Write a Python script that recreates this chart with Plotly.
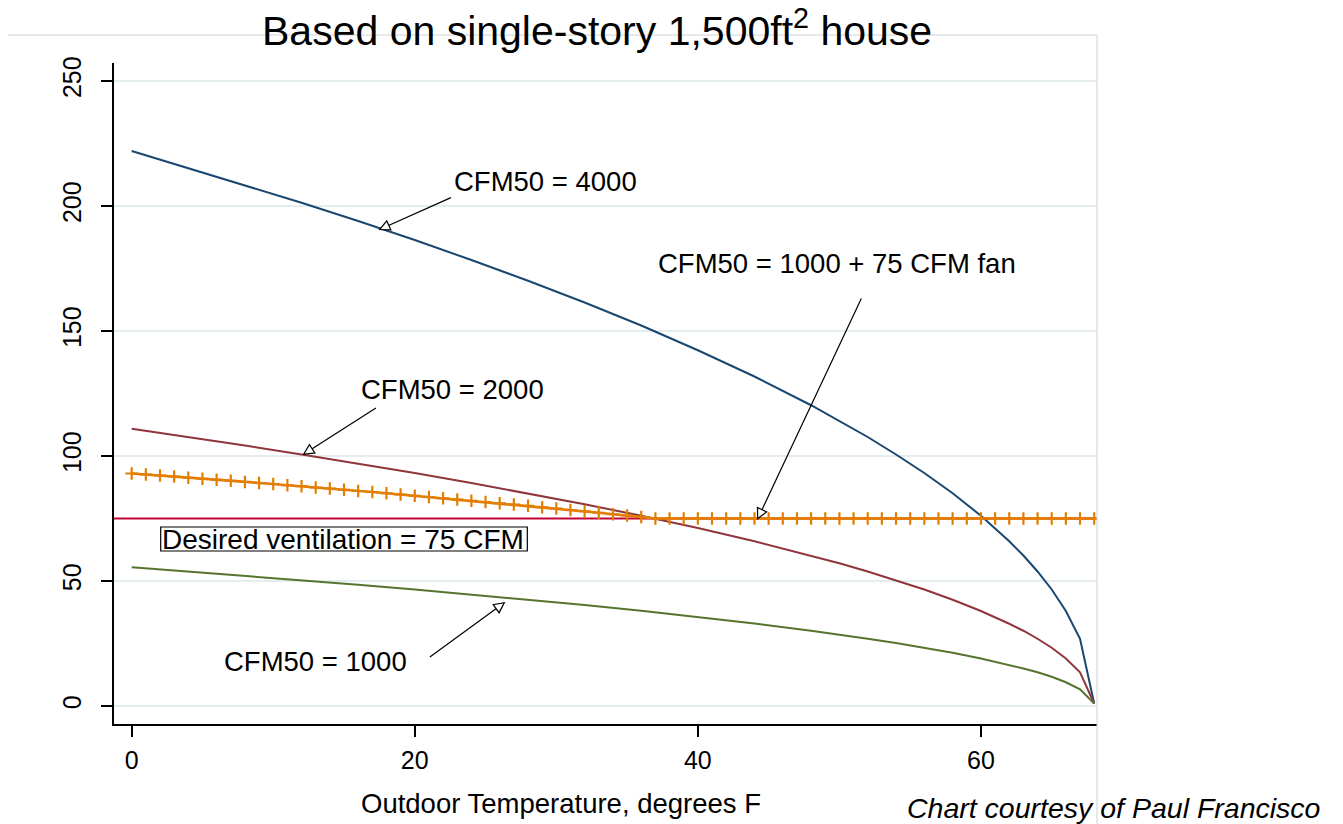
import math
import plotly.graph_objects as go

# ---------------- data ----------------
TEMP = [0, 4, 8, 12, 16, 20, 24, 28, 32, 36, 40, 44, 48, 50, 52, 54, 56, 58,
        60, 62, 63, 64, 65, 66, 67, 68]
CFM50_4000 = [222, 215.2, 208.4, 201.3, 194.0, 186.4, 178.4, 170.1, 161.4, 152.2,
              142.3, 131.8, 120.3, 114.1, 107.6, 100.6, 93.2, 85.1,
              76.1, 65.9, 60.2, 53.8, 46.6, 38.0, 26.9, 1.0]
CFM50_2000 = [110.9, 107.6, 104.2, 100.6, 97.0, 93.2, 89.2, 85.1, 80.7, 76.1,
              71.2, 65.9, 60.2, 57.1, 53.8, 50.3, 46.6, 42.5,
              38.0, 32.9, 30.1, 26.9, 23.3, 19.0, 13.5, 1.0]
CFM50_1000 = [55.5, 53.8, 52.1, 50.4, 48.5, 46.6, 44.6, 42.6, 40.4, 38.1,
              35.6, 33.0, 30.1, 28.6, 26.9, 25.2, 23.3, 21.3,
              19.0, 16.5, 15.0, 13.5, 11.7, 9.5, 6.7, 1.0]

TEMP_FAN = list(range(0, 69))
CFM50_1000_FAN = [93.0, 92.6, 92.2, 91.8, 91.3, 90.9, 90.5, 90.1, 89.6, 89.2,
                  88.8, 88.3, 87.9, 87.4, 87.0, 86.5, 86.0, 85.6, 85.1, 84.6,
                  84.1, 83.6, 83.1, 82.6, 82.1, 81.6, 81.1, 80.6, 80.1, 79.5,
                  79.0, 78.4, 77.9, 77.3, 76.7, 76.2, 75.6, 75.0] + [75.0] * 31

DESIRED = 75
Y_TICKS = [0, 50, 100, 150, 200, 250]
X_TICKS = [0, 20, 40, 60]

TITLE = "Based on single-story 1,500ft<sup>2</sup> house"
X_TITLE = "Outdoor Temperature, degrees F"
CREDIT = "<i>Chart courtesy of Paul Francisco</i>"

# annotation labels: (text, text_x, text_y, tail_x, tail_y, tip_x, tip_y)
LABELS = [
    ("CFM50 = 4000", 29.22, 210.0, 22.66, 203.6, 17.43, 190.4),
    ("CFM50 = 1000 + 75 CFM fan", 49.83, 177.2, 51.6, 163.6, 44.19, 74.4),
    ("CFM50 = 2000", 22.66, 126.8, 17.36, 119.6, 12.07, 100.4),
    ("CFM50 = 1000", 12.99, 18.0, 20.96, 19.2, 26.4, 41.6),
]
BOX_TEXT = "Desired ventilation = 75 CFM"

# ---------------- style ----------------
FONT = "Liberation Sans, Arial, Helvetica, sans-serif"
NAVY = "#1a476f"
MAROON = "#90353b"
GREEN = "#55752f"
ORANGE = "#e37e00"
CRANBERRY = "#c10534"
GRID = "#e4edf0"

W, H = 1343, 824
ML, MR, MT, MB = 114, 246, 63, 100
X_RANGE = [-1.25, 68.2]
Y_RANGE = [-7.2, 257.2]
PW, PH = W - ML - MR, H - MT - MB
PX_X = PW / (X_RANGE[1] - X_RANGE[0])
PX_Y = PH / (Y_RANGE[1] - Y_RANGE[0])

fig = go.Figure()
fig.add_trace(go.Scatter(x=TEMP, y=CFM50_4000, mode="lines",
                         line=dict(color=NAVY, width=2), hoverinfo="skip"))
fig.add_trace(go.Scatter(x=TEMP, y=CFM50_2000, mode="lines",
                         line=dict(color=MAROON, width=2), hoverinfo="skip"))
fig.add_trace(go.Scatter(x=TEMP, y=CFM50_1000, mode="lines",
                         line=dict(color=GREEN, width=2), hoverinfo="skip"))
fig.add_trace(go.Scatter(x=TEMP_FAN, y=CFM50_1000_FAN, mode="lines+markers",
                         line=dict(color=ORANGE, width=2.7),
                         marker=dict(symbol="cross-thin", size=9,
                                     line=dict(color=ORANGE, width=2.2)),
                         hoverinfo="skip"))

shapes = [
    dict(type="line", xref="paper", yref="y", x0=0, x1=1, y0=DESIRED, y1=DESIRED,
         line=dict(color=CRANBERRY, width=2), layer="between"),
    # box around the "desired ventilation" label
    dict(type="rect", xref="x", yref="y", x0=2.05, x1=27.95, y0=62.0, y1=71.6,
         line=dict(color="black", width=1.2), fillcolor="rgba(0,0,0,0)"),
    # light outer frame lines of the original graphic
    dict(type="line", xref="paper", yref="paper",
         x0=(8 - ML) / PW, x1=1, y0=(H - MB - 35) / PH, y1=(H - MB - 35) / PH,
         line=dict(color="#d2d2d2", width=1)),
    dict(type="line", xref="paper", yref="paper", x0=1, x1=1,
         y0=(H - MB - 35) / PH, y1=-MB / PH,
         line=dict(color="#d2d2d2", width=1)),
]

annotations = []
for text, tx, ty, ax_, ay_, hx, hy in LABELS:
    annotations.append(dict(x=tx, y=ty, xref="x", yref="y", text=text,
                            showarrow=False, font=dict(family=FONT, size=27.5,
                                                       color="black")))
    # black arrow
    annotations.append(dict(x=hx, y=hy, xref="x", yref="y", ax=ax_, ay=ay_,
                            axref="x", ayref="y", text="", showarrow=True,
                            arrowhead=2, arrowsize=2, arrowwidth=1.2,
                            arrowcolor="black", standoff=0))
    # white inset to make the head look open
    dxp = (ax_ - hx) * PX_X
    dyp = (ay_ - hy) * PX_Y
    L = math.hypot(dxp, dyp)
    f = 9.0 / L
    annotations.append(dict(x=hx, y=hy, xref="x", yref="y",
                            ax=hx + (ax_ - hx) * f, ay=hy + (ay_ - hy) * f,
                            axref="x", ayref="y", text="", showarrow=True,
                            arrowhead=2, arrowsize=2.7, arrowwidth=0.6,
                            arrowcolor="white", standoff=2.7))

annotations.append(dict(x=14.93, y=66.8, xref="x", yref="y", text=BOX_TEXT,
                        showarrow=False, font=dict(family=FONT, size=28,
                                                   color="black")))
annotations.append(dict(x=(597 - ML) / PW, y=(H - MB - 28) / PH,
                        xref="paper", yref="paper", text=TITLE, showarrow=False,
                        xanchor="center", yanchor="middle",
                        font=dict(family=FONT, size=41, color="black")))
annotations.append(dict(x=(561 - ML) / PW, y=-(803 - (H - MB)) / PH,
                        xref="paper", yref="paper", text=X_TITLE, showarrow=False,
                        xanchor="center", yanchor="middle",
                        font=dict(family=FONT, size=27.5, color="black")))
annotations.append(dict(x=(1322 - ML) / PW, y=-(808 - (H - MB)) / PH,
                        xref="paper", yref="paper", text=CREDIT, showarrow=False,
                        xanchor="right", yanchor="middle",
                        font=dict(family=FONT, size=28.5, color="black")))

fig.update_layout(
    width=W, height=H,
    margin=dict(l=ML, r=MR, t=MT, b=MB, pad=0),
    paper_bgcolor="white", plot_bgcolor="white",
    showlegend=False,
    shapes=shapes,
    annotations=annotations,
    xaxis=dict(range=X_RANGE, tickvals=X_TICKS, showgrid=False, zeroline=False,
               showline=True, linecolor="black", linewidth=1.5,
               ticks="outside", ticklen=11, tickwidth=1.5, tickcolor="black",
               tickfont=dict(family=FONT, size=25, color="black"),
               ticklabelstandoff=2),
    yaxis=dict(range=Y_RANGE, tickvals=Y_TICKS, showgrid=True, gridcolor=GRID,
               gridwidth=2, zeroline=False,
               showline=True, linecolor="black", linewidth=1.5,
               ticks="outside", ticklen=11, tickwidth=1.5, tickcolor="black",
               tickangle=-90,
               tickfont=dict(family=FONT, size=25, color="black"),
               ticklabelstandoff=10),
)

fig.write_html(
    "out.html",
    config={"displayModeBar": False},
    post_script="document.body.style.margin='0';document.body.style.overflow='hidden';",
)
